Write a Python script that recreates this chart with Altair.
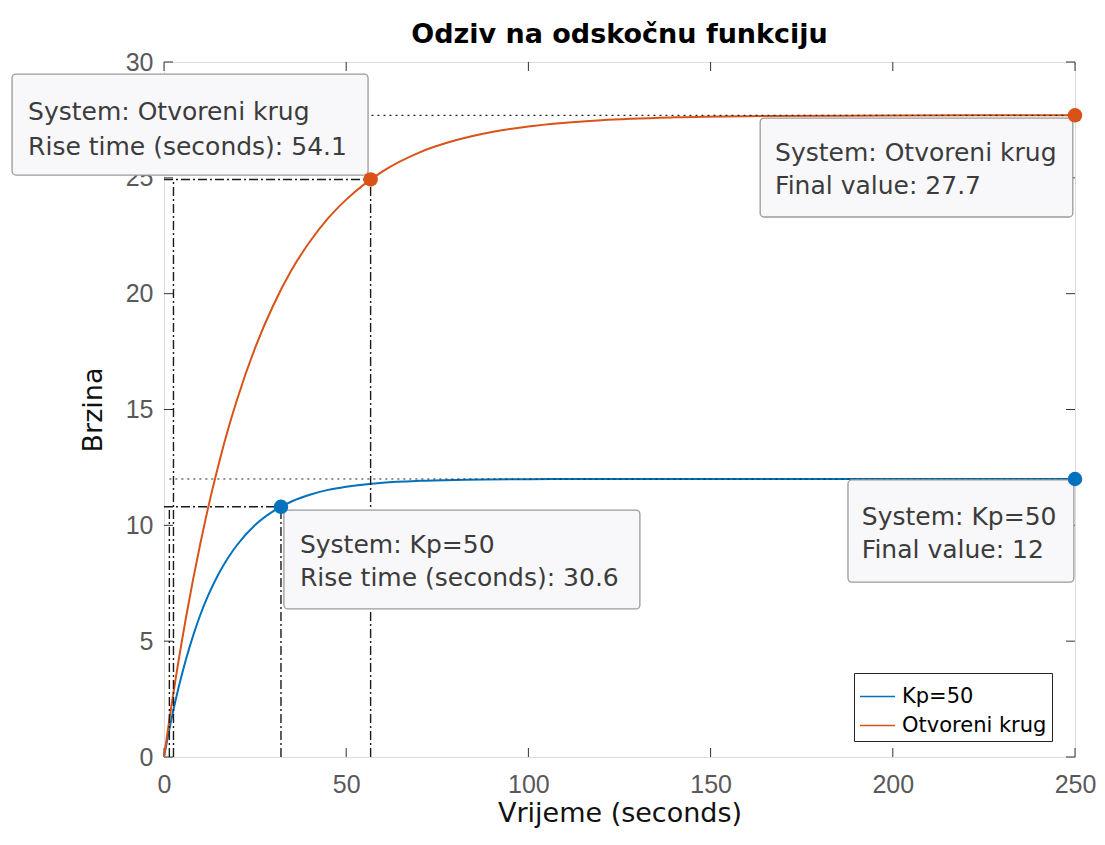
import altair as alt
import pandas as pd

# ---- data ----
t_kp = [0, 1, 2, 3, 4, 5, 6, 8, 10, 12, 15, 18, 20, 25, 30, 35, 40, 45, 50, 60, 70, 80, 100, 120, 150, 200, 250]
y_kp = [0, 0.83, 1.61, 2.33, 3.00, 3.62, 4.20, 5.24, 6.15, 6.93, 7.91, 8.70, 9.14, 10.01, 10.61, 11.03, 11.32,
        11.53, 11.67, 11.84, 11.92, 11.96, 11.99, 12.0, 12.0, 12.0, 12.0]
t_ol = [0, 1, 2, 3, 4, 5, 6, 8, 10, 12, 15, 18, 20, 25, 30, 35, 40, 45, 50, 60, 70, 80, 90, 100, 120, 140, 160, 200, 250]
y_ol = [0, 1.10, 2.16, 3.18, 4.16, 5.09, 5.99, 7.68, 9.24, 10.69, 12.64, 14.37, 15.40, 17.66, 19.50, 21.02, 22.24,
        23.25, 24.06, 25.28, 26.09, 26.62, 26.98, 27.22, 27.49, 27.61, 27.66, 27.69, 27.70]

series = ["Kp=50", "Otvoreni krug"]
colors = ["#0072BD", "#D95319"]

final_values = [12.0, 27.7]
final_time = [250, 250]
rise_t10 = [1.47, 2.6]
rise_t90 = [32.1, 56.7]
rise_y90 = [10.8, 24.93]

x_ticks = [0, 50, 100, 150, 200, 250]
y_ticks = [0, 5, 10, 15, 20, 25, 30]

tip_lines1 = ["System: Otvoreni krug", "System: Otvoreni krug", "System: Kp=50", "System: Kp=50"]
tip_lines2 = ["Rise time (seconds): 54.1", "Final value: 27.7", "Rise time (seconds): 30.6", "Final value: 12"]
# datatip box placement (data units)
tip_x0 = [-41.7, 163.6, 32.9, 187.7]
tip_x1 = [56.0, 249.4, 130.6, 249.7]
tip_y0 = [29.48, 27.58, 10.66, 11.96]
tip_y1 = [25.12, 23.31, 6.39, 7.55]
tip_tx = [-37.3, 167.7, 37.3, 191.5]
tip_ty1 = [27.84, 26.07, 9.15, 10.36]
tip_ty2 = [26.33, 24.64, 7.73, 8.93]

# ---- tables ----
curves = pd.concat([
    pd.DataFrame({"t": t_kp, "y": y_kp, "series": series[0]}),
    pd.DataFrame({"t": t_ol, "y": y_ol, "series": series[1]}),
])
dotted = pd.DataFrame({"x": rise_t10, "x2": final_time, "y": final_values})
hdash = pd.DataFrame({"x": [0, 0], "x2": rise_t90, "y": rise_y90})
vdash = pd.DataFrame({"x": rise_t10 + rise_t90, "y": [0] * 4, "y2": rise_y90 + rise_y90})
points = pd.DataFrame({"x": rise_t90 + final_time, "y": rise_y90 + final_values, "c": colors + colors})
boxes = pd.DataFrame({"x": tip_x0, "x2": tip_x1, "y": tip_y0, "y2": tip_y1})
texts = pd.DataFrame({"x": tip_tx + tip_tx, "y": tip_ty1 + tip_ty2, "label": tip_lines1 + tip_lines2})
xt = pd.DataFrame({"v": x_ticks})
yt = pd.DataFrame({"v": y_ticks})

W, H = 911, 695
FONT = "DejaVu Sans"
TICKFONT = "Liberation Sans"

xscale = alt.Scale(domain=[0, 250], nice=False, zero=False)
yscale = alt.Scale(domain=[0, 30], nice=False, zero=False)
xaxis = alt.Axis(values=x_ticks, domain=False, ticks=False, grid=False, labelFont=TICKFONT, labelFontSize=25,
                 labelColor="#595959", labelPadding=15, title="Vrijeme (seconds)", titleFont=FONT,
                 titleFontSize=27, titleFontWeight="normal", titleColor="#111111", titlePadding=3,
                 labelFlush=False)
yaxis = alt.Axis(values=y_ticks, domain=False, ticks=False, grid=False, labelFont=TICKFONT, labelFontSize=25,
                 labelColor="#595959", labelPadding=11, title="Brzina", titleFont=FONT, titleFontSize=27,
                 titleFontWeight="normal", titleColor="#111111", titlePadding=18, labelFlush=False)


def X(f):
    return alt.X(f, type="quantitative", scale=xscale, axis=xaxis)


def Y(f):
    return alt.Y(f, type="quantitative", scale=yscale, axis=yaxis)


lines = alt.Chart(curves).mark_line(strokeWidth=2, interpolate="monotone").encode(
    x=X("t"), y=Y("y"),
    color=alt.Color("series:N", scale=alt.Scale(domain=series, range=colors),
                    legend=alt.Legend(title=None, orient="none", legendX=690, legendY=611,
                                      strokeColor="#262626", fillColor="white", padding=5,
                                      symbolType="stroke", symbolSize=1225, symbolStrokeWidth=1.5,
                                      labelFont=FONT, labelFontSize=21, labelColor="black",
                                      rowPadding=-5, labelOffset=6, cornerRadius=0)),
)

dot_rules = alt.Chart(dotted).mark_rule(strokeDash=[2, 4], color="#262626", strokeWidth=1.2).encode(
    x=X("x"), x2="x2:Q", y=Y("y"))
h_rules = alt.Chart(hdash).mark_rule(strokeDash=[9, 3, 2, 3], color="#1a1a1a", strokeWidth=1.4).encode(
    x=X("x"), x2="x2:Q", y=Y("y"))
v_rules = alt.Chart(vdash).mark_rule(strokeDash=[9, 3, 2, 3], color="#1a1a1a", strokeWidth=1.4).encode(
    x=X("x"), y=Y("y"), y2="y2:Q")

xt_bottom = alt.Chart(xt).mark_rule(color="#333333", strokeWidth=1).encode(
    x=X("v"), y=alt.value(H), y2=alt.value(H - 9))
xt_top = alt.Chart(xt).mark_rule(color="#333333", strokeWidth=1).encode(
    x=X("v"), y=alt.value(0), y2=alt.value(9))
yt_left = alt.Chart(yt).mark_rule(color="#333333", strokeWidth=1).encode(
    y=Y("v"), x=alt.value(0), x2=alt.value(9))
yt_right = alt.Chart(yt).mark_rule(color="#333333", strokeWidth=1).encode(
    y=Y("v"), x=alt.value(W), x2=alt.value(W - 9))

box_marks = alt.Chart(boxes).mark_rect(fill="#f8f8fa", stroke="#9a9a9a", strokeWidth=1.3, cornerRadius=4).encode(
    x=X("x"), x2="x2:Q", y=Y("y"), y2="y2:Q")
text_marks = alt.Chart(texts).mark_text(align="left", baseline="middle", font=FONT, fontSize=25,
                                        color="#3c3c3c").encode(x=X("x"), y=Y("y"), text="label:N")
point_marks = alt.Chart(points).mark_circle(size=210, opacity=1).encode(
    x=X("x"), y=Y("y"), color=alt.Color("c:N", scale=None, legend=None))

chart = alt.layer(
    xt_bottom, xt_top, yt_left, yt_right,
    lines, dot_rules, h_rules, v_rules, box_marks, text_marks, point_marks
).properties(
    width=W, height=H,
    autosize=alt.AutoSizeParams(type="none"),
    padding={"left": 156, "top": 54, "right": 22, "bottom": 80},
    title=alt.TitleParams("Odziv na odskočnu funkciju", font=FONT, fontSize=27, fontWeight="bold",
                          color="black", offset=1, anchor="middle"),
).configure_view(stroke="#333333", strokeWidth=1.2).configure(background="white")

chart.save("out.html", embed_options={"renderer": "svg", "actions": False})
